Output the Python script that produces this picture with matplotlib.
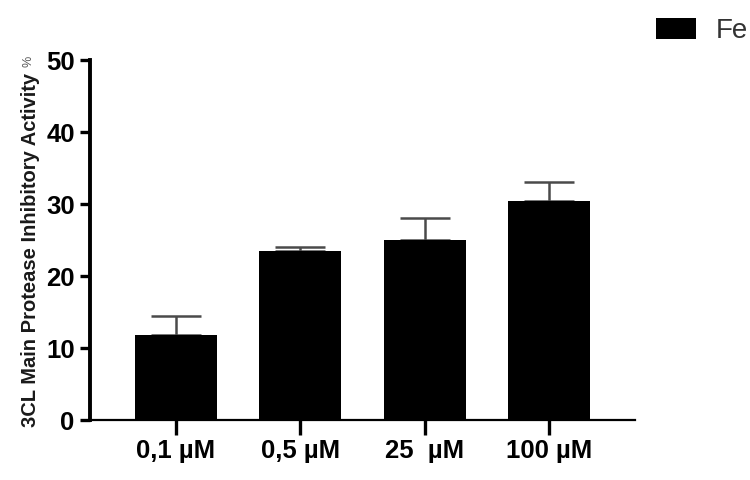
import numpy as np
import matplotlib
matplotlib.use("Agg")
import matplotlib.pyplot as plt

# concentrations and measured inhibitory activity (%)
labels = ["0,1 µM", "0,5 µM", "25  µM", "100 µM"]
means = [11.8, 23.5, 25.0, 30.5]
upper_err = [2.7, 0.5, 3.1, 2.6]

plt.rcParams['font.family'] = ['Liberation Sans', 'DejaVu Sans']

fig = plt.figure(figsize=(7.5, 4.8), dpi=100)
ax = fig.add_axes([0.12, 0.125, 0.727, 0.749])

x = np.arange(len(labels))
ax.bar(x, means, width=0.66, color='black', label='Fe', zorder=2)
ax.errorbar(x, means, yerr=[np.zeros(len(means)), upper_err], fmt='none',
            ecolor='#4a4a4a', elinewidth=1.8, capsize=18, capthick=1.8, zorder=1)

ax.set_xlim(-0.69, 3.69)
ax.set_ylim(0, 50)
ax.set_yticks([0, 10, 20, 30, 40, 50])
ax.set_xticks(x)
ax.set_xticklabels(labels)

for s in ['top', 'right']:
    ax.spines[s].set_visible(False)
ax.spines['left'].set_linewidth(2.8)
ax.spines['bottom'].set_linewidth(1.6)
ax.tick_params(axis='y', length=7, width=2.4, labelsize=18.5, pad=4)
ax.tick_params(axis='x', length=11, width=2.4, labelsize=18.5, pad=3)
for t in ax.get_xticklabels() + ax.get_yticklabels():
    t.set_fontweight('bold')

ax.set_ylabel('3CL Main Protease Inhibitory Activity', fontsize=14.5,
              fontweight='bold', color='#1a1a1a')
ax.yaxis.set_label_coords(-0.092, 0.473)
fig.text(28 / 750, 1 - 61 / 480, '%', rotation=90, fontsize=9,
         color='#555555', ha='center', va='center')

fig.legend(loc='upper left', bbox_to_anchor=(0.85, 1.0), frameon=False,
           fontsize=20, handlelength=1.45, handleheight=0.75, handletextpad=0.7,
           borderaxespad=0.25, labelcolor='#333333')

fig.savefig('out.png', dpi=100)
